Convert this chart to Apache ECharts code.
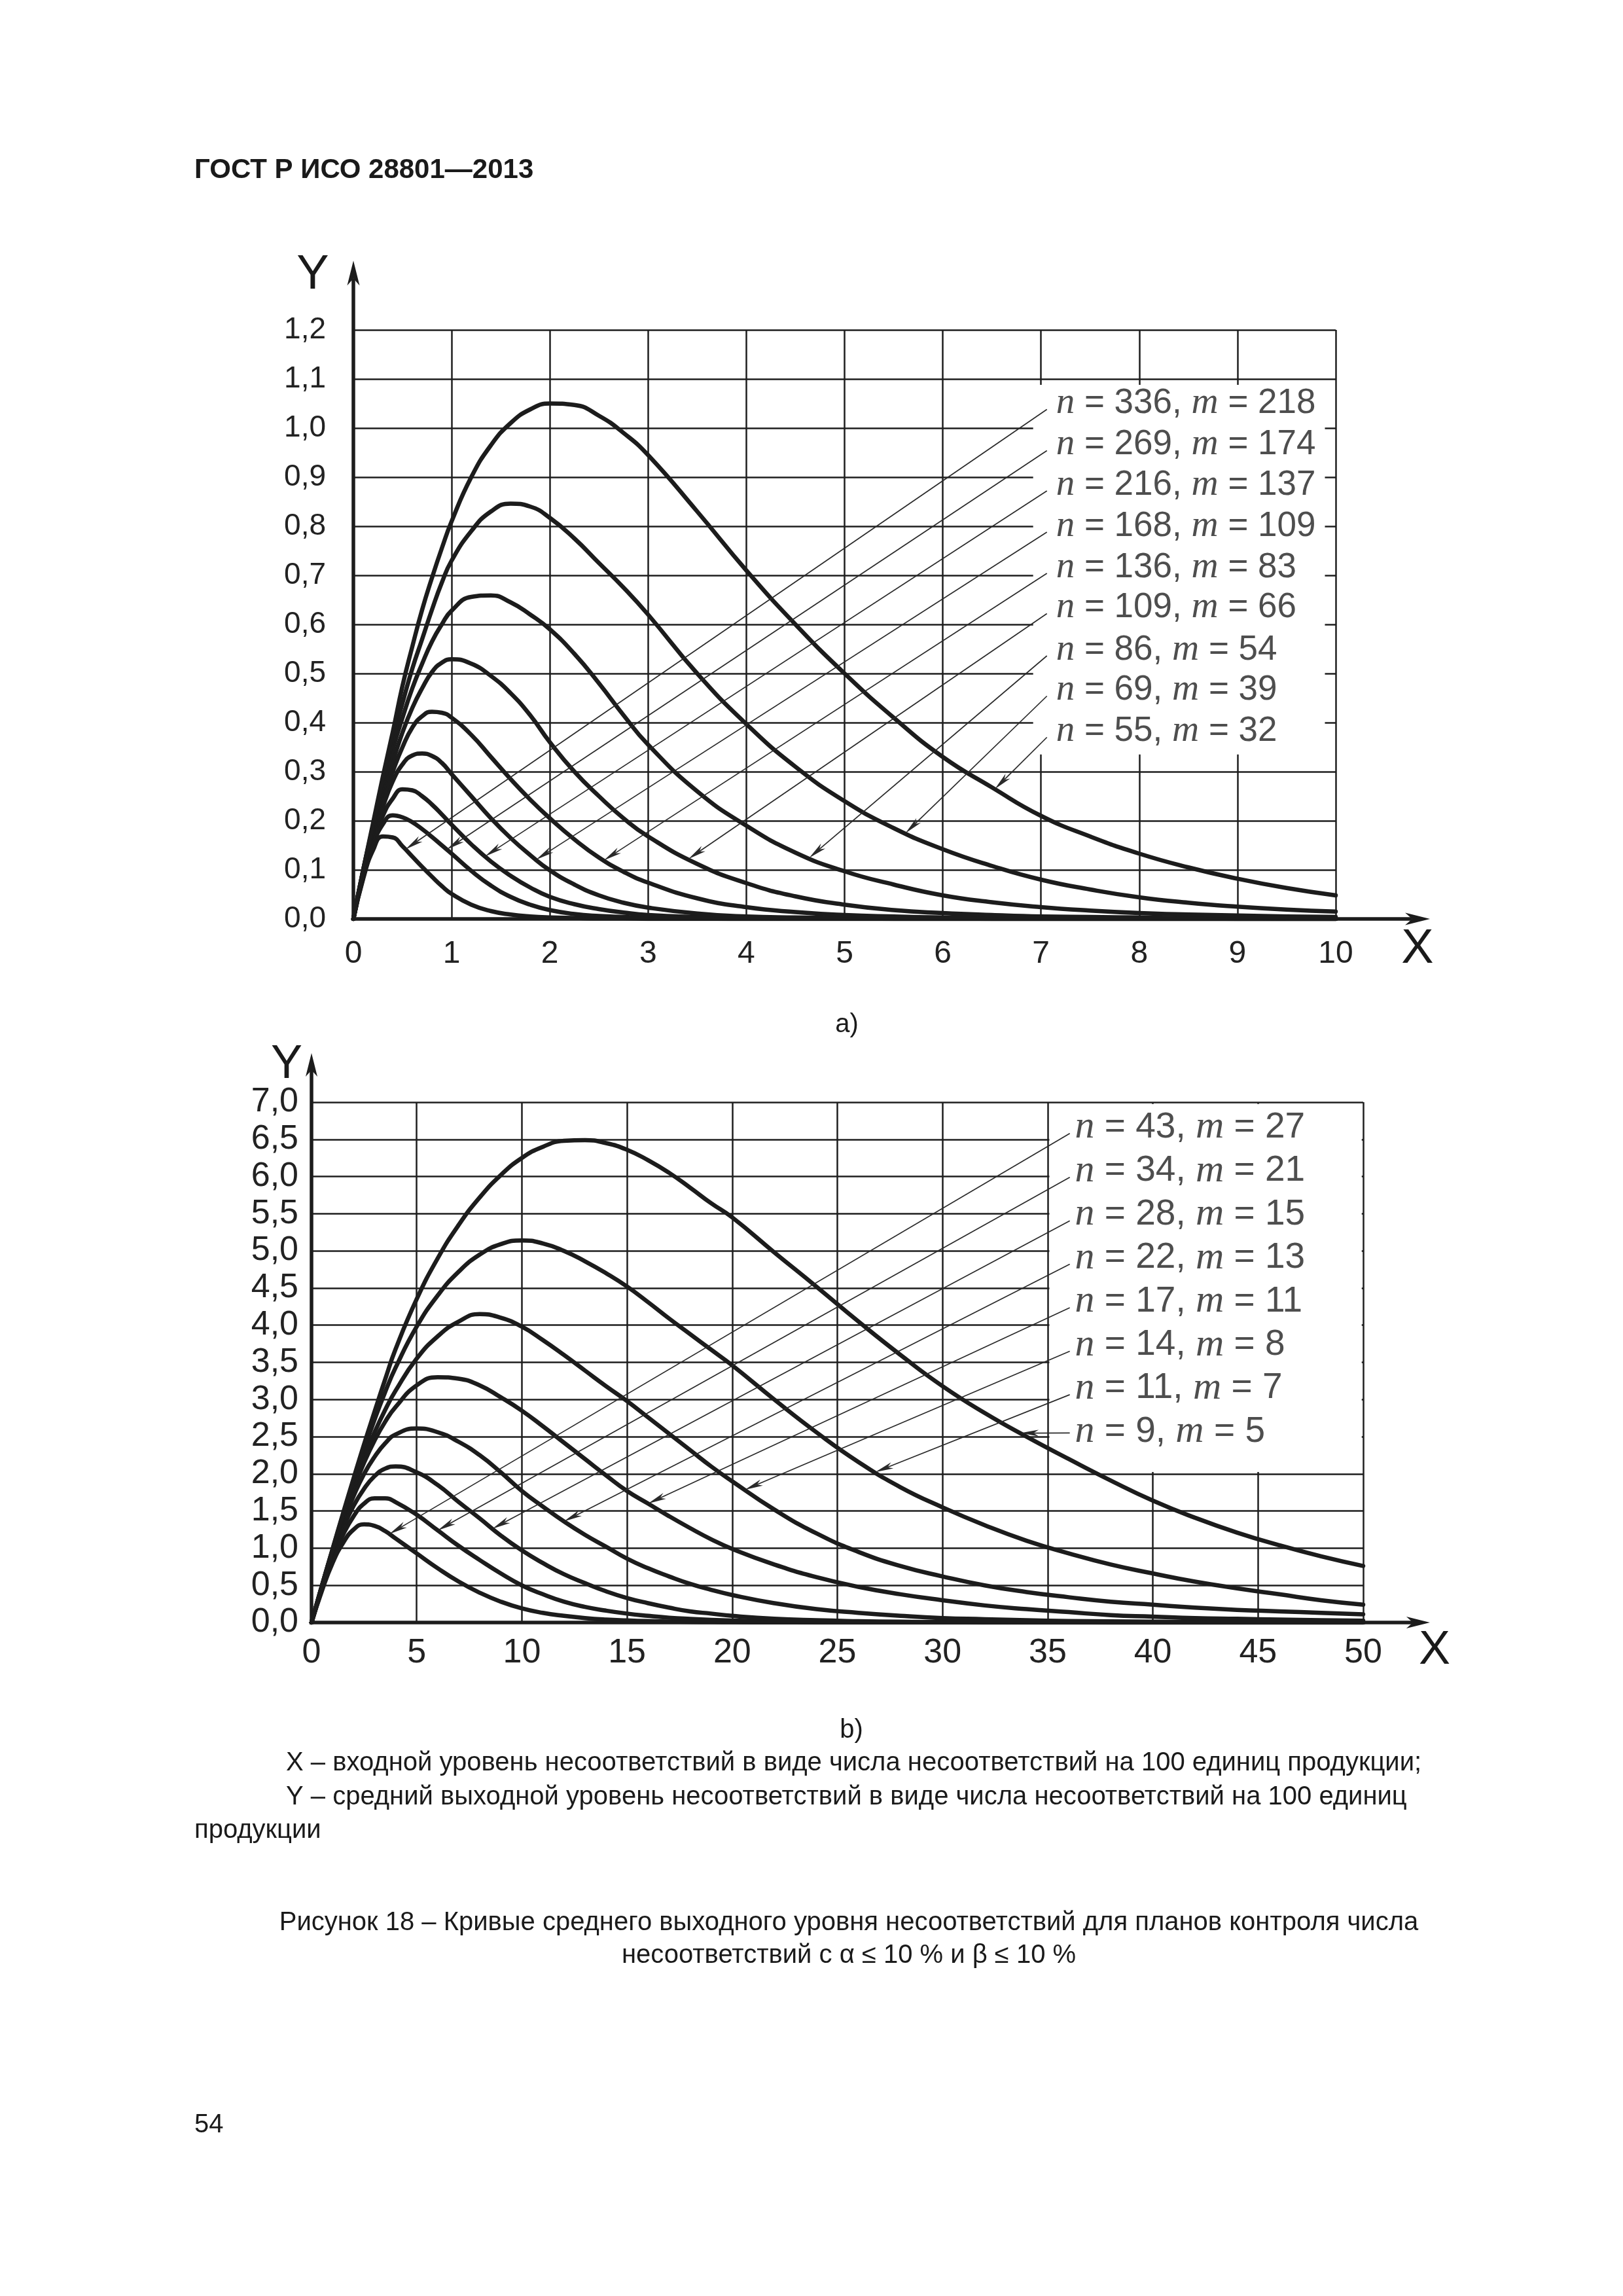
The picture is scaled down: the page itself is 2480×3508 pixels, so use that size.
<!DOCTYPE html>
<html><head><meta charset="utf-8">
<script src="https://cdn.jsdelivr.net/npm/echarts@6/dist/echarts.min.js"></script>
<style>html,body{margin:0;padding:0;background:#fff}#c{width:2480px;height:3508px}</style>
</head><body><div id="c"></div>
<script>
// ---------- Chart a) data ----------
const aX = [0,0.1,0.2,0.3,0.4,0.5,0.6,0.7,0.8,0.9,1.0,1.2,1.4,1.6,1.8,2.0,2.25,2.5,2.75,3.0,3.5,4.0,4.5,5.0,5.5,6.0,6.5,7.0,7.5,8.0,8.5,9.0,9.5,10.0];
const aN55  = [0,0.1,0.195,0.29,0.38,0.475,0.555,0.63,0.695,0.755,0.81,0.9,0.965,1.01,1.038,1.05,1.047,1.025,0.99,0.945,0.83,0.71,0.6,0.5,0.41,0.33,0.268,0.21,0.168,0.133,0.105,0.082,0.063,0.048];
const aN69  = [0,0.1,0.19,0.28,0.365,0.44,0.51,0.57,0.63,0.685,0.73,0.79,0.83,0.846,0.84,0.817,0.775,0.725,0.675,0.62,0.5,0.397,0.31,0.24,0.185,0.142,0.108,0.08,0.06,0.044,0.033,0.025,0.019,0.015];
const aN86  = [0,0.1,0.185,0.27,0.345,0.41,0.47,0.52,0.565,0.6,0.628,0.656,0.659,0.645,0.62,0.59,0.54,0.48,0.415,0.355,0.26,0.19,0.135,0.097,0.07,0.048,0.034,0.024,0.017,0.012,0.009,0.007,0.005,0.004];
const aN109 = [0,0.098,0.18,0.26,0.32,0.38,0.43,0.47,0.503,0.522,0.529,0.52,0.495,0.46,0.415,0.36,0.3,0.25,0.205,0.168,0.112,0.073,0.046,0.029,0.018,0.012,0.008,0.005,0.004,0.003,0.002,0.002,0.001,0.001];
const aN136 = [0,0.095,0.175,0.245,0.3,0.35,0.39,0.413,0.422,0.42,0.41,0.375,0.33,0.285,0.243,0.205,0.162,0.125,0.096,0.074,0.042,0.024,0.014,0.008,0.005,0.003,0.002,0.002,0.001,0.001,0.001,0,0,0];
const aN168 = [0,0.092,0.165,0.228,0.28,0.315,0.333,0.337,0.332,0.318,0.295,0.25,0.205,0.165,0.13,0.099,0.07,0.048,0.033,0.023,0.011,0.005,0.003,0.002,0.001,0.001,0,0,0,0,0,0,0,0];
const aN216 = [0,0.088,0.155,0.21,0.245,0.264,0.262,0.25,0.233,0.213,0.192,0.152,0.117,0.088,0.064,0.045,0.03,0.02,0.013,0.008,0.004,0.002,0.001,0.001,0,0,0,0,0,0,0,0,0,0];
const aN269 = [0,0.085,0.15,0.193,0.211,0.207,0.197,0.183,0.167,0.15,0.133,0.098,0.068,0.045,0.029,0.018,0.01,0.006,0.004,0.002,0.001,0,0,0,0,0,0,0,0,0,0,0,0,0];
const aN336 = [0,0.082,0.14,0.168,0.166,0.148,0.127,0.106,0.086,0.067,0.051,0.029,0.016,0.009,0.005,0.003,0.002,0.001,0.001,0,0,0,0,0,0,0,0,0,0,0,0,0,0,0];
// labels (top to bottom) and the curve each one points to
const aPlanN = [336,269,216,168,136,109,86,69,55];
const aPlanM = [218,174,137,109,83,66,54,39,32];
const aLabelY = [1.05,0.966,0.884,0.8,0.716,0.634,0.548,0.466,0.382];
const aArrowX = [0.53,0.95,1.34,1.86,2.55,3.41,4.64,5.62,6.53];
const aXTickLabels = ['0','1','2','3','4','5','6','7','8','9','10'];
const aYTickLabels = ['0,0','0,1','0,2','0,3','0,4','0,5','0,6','0,7','0,8','0,9','1,0','1,1','1,2'];

// ---------- Chart b) data ----------
const bX = [0,0.5,1,1.5,2,2.5,3,3.5,4,5,6,7,8,9,10,11,12,13,14,15,16,17,18,19,20,22,24,26,28,30,32,34,36,38,40,42,44,46,48,50];
const bN9  = [0,0.5,0.99,1.47,1.94,2.4,2.84,3.27,3.68,4.35,4.9,5.35,5.72,6.02,6.25,6.4,6.48,6.49,6.45,6.36,6.22,6.05,5.85,5.64,5.45,4.98,4.52,4.05,3.6,3.18,2.82,2.5,2.2,1.91,1.64,1.41,1.21,1.04,0.89,0.76];
const bN11 = [0,0.5,0.98,1.45,1.9,2.33,2.73,3.1,3.43,3.98,4.4,4.72,4.95,5.09,5.14,5.1,5.0,4.86,4.7,4.52,4.31,4.09,3.88,3.67,3.46,3.0,2.56,2.16,1.82,1.55,1.31,1.1,0.93,0.78,0.66,0.55,0.46,0.38,0.3,0.24];
const bN14 = [0,0.5,0.97,1.42,1.84,2.22,2.56,2.86,3.12,3.55,3.85,4.05,4.15,4.1,3.98,3.8,3.6,3.39,3.18,2.98,2.76,2.54,2.32,2.1,1.9,1.52,1.2,0.95,0.76,0.62,0.5,0.41,0.34,0.28,0.24,0.2,0.17,0.15,0.13,0.11];
const bN17 = [0,0.49,0.96,1.4,1.8,2.15,2.45,2.7,2.9,3.19,3.3,3.28,3.19,3.03,2.85,2.64,2.42,2.2,1.98,1.77,1.6,1.43,1.27,1.12,0.99,0.78,0.61,0.48,0.38,0.3,0.23,0.18,0.14,0.1,0.08,0.06,0.05,0.04,0.03,0.025];
const bN22 = [0,0.48,0.94,1.35,1.7,2.0,2.23,2.41,2.53,2.61,2.56,2.43,2.25,2.02,1.77,1.56,1.36,1.18,1.02,0.86,0.73,0.62,0.52,0.44,0.37,0.26,0.18,0.13,0.09,0.06,0.045,0.03,0.02,0.015,0.01,0.008,0.005,0.004,0.003,0.002];
const bN28 = [0,0.47,0.9,1.27,1.57,1.8,1.97,2.07,2.1,2.02,1.85,1.62,1.4,1.17,0.97,0.8,0.65,0.53,0.42,0.33,0.26,0.2,0.15,0.12,0.09,0.05,0.03,0.018,0.01,0.006,0.004,0.003,0.002,0.001,0.001,0,0,0,0,0];
const bN34 = [0,0.45,0.85,1.18,1.43,1.6,1.67,1.67,1.62,1.45,1.24,1.03,0.84,0.66,0.5,0.38,0.28,0.21,0.16,0.12,0.09,0.065,0.048,0.035,0.026,0.014,0.008,0.005,0.003,0.002,0.001,0,0,0,0,0,0,0,0,0];
const bN43 = [0,0.43,0.8,1.07,1.25,1.32,1.3,1.23,1.13,0.93,0.73,0.55,0.4,0.28,0.19,0.13,0.09,0.06,0.04,0.028,0.019,0.013,0.009,0.006,0.004,0.002,0.001,0,0,0,0,0,0,0,0,0,0,0,0,0];
const bPlanN = [43,34,28,22,17,14,11,9];
const bPlanM = [27,21,15,13,11,8,7,5];
const bLabelY = [6.66,6.075,5.49,4.905,4.32,3.735,3.15,2.565];
const bLeaderY = [6.58,5.99,5.405,4.82,4.235,3.65,3.065,2.55];
const bArrowX = [3.7,6.0,8.6,12.0,16.0,20.6,26.8,33.7];
const bXTickLabels = ['0','5','10','15','20','25','30','35','40','45','50'];
const bYTickLabels = ['0,0','0,5','1,0','1,5','2,0','2,5','3,0','3,5','4,0','4,5','5,0','5,5','6,0','6,5','7,0'];

// ---------- helpers ----------
const INK = '#1c1c1c';
const aCurves = [aN336,aN269,aN216,aN168,aN136,aN109,aN86,aN69,aN55];   // label order
const bCurves = [bN43,bN34,bN28,bN22,bN17,bN14,bN11,bN9];
function interp(xs, ys, x){
  for (let i=1;i<xs.length;i++){
    if (x<=xs[i]){ const t=(x-xs[i-1])/(xs[i]-xs[i-1]); return ys[i-1]+t*(ys[i]-ys[i-1]); }
  }
  return ys[ys.length-1];
}
function zip(xs, ys){ return xs.map((x,i)=>[x,ys[i]]); }
function arrowRenderer(lw, L, W, color){
  return function(params, api){
    const s = api.coord([api.value(0), api.value(1)]);
    const e = api.coord([api.value(2), api.value(3)]);
    const dx=e[0]-s[0], dy=e[1]-s[1], len=Math.hypot(dx,dy);
    const ux=dx/len, uy=dy/len, px=-uy, py=ux;
    const bx=e[0]-ux*L, by=e[1]-uy*L;
    const nx=bx+ux*L*0.28, ny=by+uy*L*0.28;
    return {type:'group', children:[
      {type:'line', shape:{x1:s[0],y1:s[1],x2:nx,y2:ny}, style:{stroke:color,lineWidth:lw}},
      {type:'polygon', shape:{points:[[e[0],e[1]],[bx+px*W/2,by+py*W/2],[nx,ny],[bx-px*W/2,by-py*W/2]]}, style:{fill:color}}
    ]};
  };
}
function boxRenderer(params, api){
  const p1 = api.coord([api.value(0), api.value(1)]);
  const p2 = api.coord([api.value(2), api.value(3)]);
  return {type:'rect', shape:{x:Math.min(p1[0],p2[0]), y:Math.min(p1[1],p2[1]), width:Math.abs(p2[0]-p1[0]), height:Math.abs(p2[1]-p1[1])}, style:{fill:'#fff'}};
}
function labelFmt(ns, ms){ return p => `{i|n} = ${ns[p.dataIndex]}, {i|m} = ${ms[p.dataIndex]}`; }

const series = [];
// white label boxes
series.push({type:'custom', xAxisIndex:0, yAxisIndex:0, z:1, silent:true, renderItem:boxRenderer, encode:{x:[0,2],y:[1,3]}, data:[[6.92,0.335,9.89,1.088]]});
series.push({type:'custom', xAxisIndex:1, yAxisIndex:1, z:1, silent:true, renderItem:boxRenderer, encode:{x:[0,2],y:[1,3]}, data:[[35.08,2.025,49.93,6.975]]});
// curves
const curveStyle = {color:INK, width:6.5, cap:'round', join:'round'};
aCurves.forEach((ys,i)=>series.push({type:'line', name:'a n='+aPlanN[i], xAxisIndex:0, yAxisIndex:0, z:3, data:zip(aX,ys), smooth:0.5, showSymbol:false, symbol:'none', lineStyle:curveStyle}));
bCurves.forEach((ys,i)=>series.push({type:'line', name:'b n='+bPlanN[i], xAxisIndex:1, yAxisIndex:1, z:3, data:zip(bX,ys), smooth:0.5, showSymbol:false, symbol:'none', lineStyle:curveStyle}));
// leaders with arrowheads
series.push({type:'custom', xAxisIndex:0, yAxisIndex:0, z:4, silent:true, renderItem:arrowRenderer(1.7,28,10,'#2a2a2a'), encode:{x:[0,2],y:[1,3]},
  data: aLabelY.map((y,i)=>[7.06, y-0.012, aArrowX[i], interp(aX,aCurves[i],aArrowX[i])])});
series.push({type:'custom', xAxisIndex:1, yAxisIndex:1, z:4, silent:true, renderItem:arrowRenderer(1.7,28,10,'#2a2a2a'), encode:{x:[0,2],y:[1,3]},
  data: bLeaderY.map((y,i)=>[36.05, y, bArrowX[i], interp(bX,bCurves[i],bArrowX[i])])});
// plan labels
const richI = (fs)=>({i:{fontFamily:'"Liberation Serif", serif', fontStyle:'italic', fontSize:fs, color:'#222'}});
series.push({type:'scatter', xAxisIndex:0, yAxisIndex:0, z:5, silent:true, symbolSize:1, itemStyle:{color:'rgba(0,0,0,0)'},
  data: aLabelY.map(y=>[7.15,y]),
  label:{show:true, position:'right', distance:0, formatter:labelFmt(aPlanN,aPlanM), fontFamily:'"Liberation Sans", Arial, sans-serif', fontSize:53, color:'#222', rich:richI(57)}});
series.push({type:'scatter', xAxisIndex:1, yAxisIndex:1, z:5, silent:true, symbolSize:1, itemStyle:{color:'rgba(0,0,0,0)'},
  data: bLabelY.map(y=>[36.28,y]),
  label:{show:true, position:'right', distance:0, formatter:labelFmt(bPlanN,bPlanM), fontFamily:'"Liberation Sans", Arial, sans-serif', fontSize:55, color:'#222', rich:richI(60)}});
// axes with arrows
series.push({type:'custom', xAxisIndex:0, yAxisIndex:0, z:6, silent:true, renderItem:arrowRenderer(5.5,38,19,INK), encode:{x:[0,2],y:[1,3]}, data:[[0,0,10.96,0],[0,0,0,1.341]]});
series.push({type:'custom', xAxisIndex:1, yAxisIndex:1, z:6, silent:true, renderItem:arrowRenderer(5.5,36,18,INK), encode:{x:[0,2],y:[1,3]}, data:[[0,0,53.17,0],[0,0,0,7.66]]});

const FONT = '"Liberation Sans", Arial, sans-serif';
const gridLine = {show:true, lineStyle:{color:'#1e1e1e', width:2.5}};
function txt(text, x, y, size, align, weight){
  return {type:'text', x:x, y:y, z:10, style:{text:text, fontSize:size, fontFamily:FONT, fontWeight:weight||'normal', fill:'#1a1a1a', align:align||'left', verticalAlign:'middle'}};
}

const option = {
  animation:false,
  backgroundColor:'#fff',
  grid:[
    {left:540, top:504, width:1501, height:900},
    {left:476, top:1684, width:1607, height:795}
  ],
  xAxis:[
    {type:'value', gridIndex:0, min:0, max:10, interval:1, axisLine:{show:false}, axisTick:{show:false}, splitLine:gridLine,
     axisLabel:{fontSize:48, fontFamily:FONT, color:'#222', margin:30, showMinLabel:true, showMaxLabel:true, formatter:v=>aXTickLabels[Math.round(v)]}},
    {type:'value', gridIndex:1, min:0, max:50, interval:5, axisLine:{show:false}, axisTick:{show:false}, splitLine:gridLine,
     axisLabel:{fontSize:52, fontFamily:FONT, color:'#222', margin:21, showMinLabel:true, showMaxLabel:true, formatter:v=>bXTickLabels[Math.round(v/5)]}}
  ],
  yAxis:[
    {type:'value', gridIndex:0, min:0, max:1.2, interval:0.1, axisLine:{show:false}, axisTick:{show:false}, splitLine:gridLine,
     axisLabel:{fontSize:46, fontFamily:FONT, color:'#222', margin:42, showMinLabel:true, showMaxLabel:true, formatter:v=>aYTickLabels[Math.round(v/0.1)]}},
    {type:'value', gridIndex:1, min:0, max:7, interval:0.5, axisLine:{show:false}, axisTick:{show:false}, splitLine:gridLine,
     axisLabel:{fontSize:52, fontFamily:FONT, color:'#222', margin:20, showMinLabel:true, showMaxLabel:true, formatter:v=>bYTickLabels[Math.round(v/0.5)]}}
  ],
  series: series,
  graphic:[
    txt('ГОСТ Р ИСО 28801—2013', 297, 260, 42, 'left', 'bold'),
    txt('Y', 478, 421, 74, 'center'),
    txt('X', 2166, 1451, 74, 'center'),
    txt('a)', 1294, 1566, 40, 'center'),
    txt('Y', 438, 1627, 72, 'center'),
    txt('X', 2192, 2522, 72, 'center'),
    txt('b)', 1301, 2644, 40, 'center'),
    txt('X – входной уровень несоответствий в виде числа несоответствий на 100 единиц продукции;', 437, 2694, 40, 'left'),
    txt('Y – средний выходной уровень несоответствий в виде числа несоответствий на 100 единиц', 437, 2746, 40, 'left'),
    txt('продукции', 297, 2797, 40, 'left'),
    txt('Рисунок 18 – Кривые среднего выходного уровня несоответствий для планов контроля числа', 1297, 2938, 40, 'center'),
    txt('несоответствий с α ≤ 10 % и β ≤ 10 %', 1297, 2988, 40, 'center'),
    txt('54', 297, 3247, 40, 'left')
  ]
};
const chart = echarts.init(document.getElementById('c'), null, {renderer:'canvas', width:2480, height:3508});
chart.setOption(option);
</script>
</body></html>
